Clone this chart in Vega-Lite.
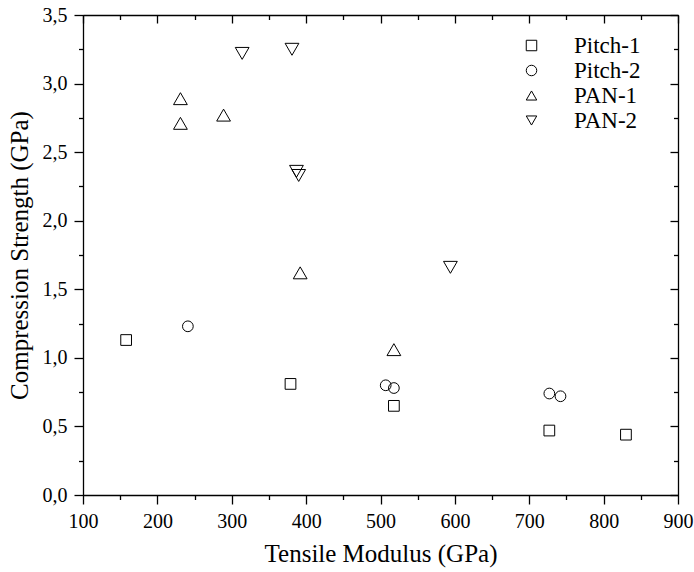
{
  "$schema": "https://vega.github.io/schema/vega-lite/v6.json",
  "width": 595,
  "height": 480,
  "autosize": {"type": "none"},
  "padding": {"left": 83, "top": 15, "right": 16, "bottom": 77},
  "background": "white",
  "config": {
    "view": {"stroke": "black", "strokeWidth": 1},
    "font": "Liberation Serif",
    "axis": {
      "grid": false,
      "domainColor": "black",
      "domainWidth": 1.3,
      "tickColor": "black",
      "tickWidth": 1.3,
      "labelColor": "black",
      "titleColor": "black",
      "labelFont": "Liberation Serif",
      "titleFont": "Liberation Serif",
      "labelFontSize": 20,
      "titleFontSize": 25,
      "titleFontWeight": "normal",
      "labelFlush": false,
      "labelOverlap": false
    },
    "legend": {
      "orient": "none",
      "legendX": 437,
      "legendY": 19,
      "labelFontSize": 23,
      "labelFont": "Liberation Serif",
      "labelColor": "black",
      "symbolSize": 110,
      "symbolStrokeColor": "black",
      "symbolFillColor": "transparent",
      "symbolStrokeWidth": 1,
      "labelOffset": 31,
      "rowPadding": 1,
      "padding": 0
    }
  },
  "data": {
    "values": [
      {"series": "Pitch-1", "modulus": 158, "strength": 1.13},
      {"series": "Pitch-1", "modulus": 379, "strength": 0.81},
      {"series": "Pitch-1", "modulus": 518, "strength": 0.65},
      {"series": "Pitch-1", "modulus": 727, "strength": 0.47},
      {"series": "Pitch-1", "modulus": 830, "strength": 0.44},
      {"series": "Pitch-2", "modulus": 241, "strength": 1.23},
      {"series": "Pitch-2", "modulus": 507, "strength": 0.80},
      {"series": "Pitch-2", "modulus": 518, "strength": 0.78},
      {"series": "Pitch-2", "modulus": 727, "strength": 0.74},
      {"series": "Pitch-2", "modulus": 742, "strength": 0.72},
      {"series": "PAN-1", "modulus": 231, "strength": 2.89},
      {"series": "PAN-1", "modulus": 231, "strength": 2.71},
      {"series": "PAN-1", "modulus": 289, "strength": 2.77},
      {"series": "PAN-1", "modulus": 392, "strength": 1.62},
      {"series": "PAN-1", "modulus": 518, "strength": 1.06},
      {"series": "PAN-2", "modulus": 314, "strength": 3.22},
      {"series": "PAN-2", "modulus": 381, "strength": 3.25},
      {"series": "PAN-2", "modulus": 387, "strength": 2.36},
      {"series": "PAN-2", "modulus": 390, "strength": 2.33},
      {"series": "PAN-2", "modulus": 594, "strength": 1.66}
    ]
  },
  "layer": [
    {
      "mark": {"type": "point", "filled": false, "color": "black", "strokeWidth": 1, "opacity": 1},
      "encoding": {
        "x": {
          "field": "modulus",
          "type": "quantitative",
          "scale": {"domain": [100, 900], "nice": false, "zero": false},
          "axis": {
            "orient": "bottom",
            "title": "Tensile Modulus (GPa)",
            "values": [100, 150, 200, 250, 300, 350, 400, 450, 500, 550, 600, 650, 700, 750, 800, 850, 900],
            "labelExpr": "datum.value % 100 === 0 ? datum.label : ''",
            "tickSize": {"condition": {"test": "datum.value % 100 === 0", "value": 9}, "value": 4.5},
            "labelPadding": 7,
            "titlePadding": 10
          }
        },
        "y": {
          "field": "strength",
          "type": "quantitative",
          "scale": {"domain": [0, 3.5], "nice": false, "zero": true},
          "axis": {
            "orient": "left",
            "title": "Compression Strength (GPa)",
            "values": [0, 0.25, 0.5, 0.75, 1, 1.25, 1.5, 1.75, 2, 2.25, 2.5, 2.75, 3, 3.25, 3.5],
            "labelExpr": "abs(datum.value * 2 - round(datum.value * 2)) < 0.001 ? replace(format(datum.value, '.1f'), '.', ',') : ''",
            "tickSize": {"condition": {"test": "abs(datum.value * 2 - round(datum.value * 2)) < 0.001", "value": 9}, "value": 4.5},
            "labelPadding": 7,
            "titlePadding": 10
          }
        },
        "shape": {
          "field": "series",
          "type": "nominal",
          "scale": {"domain": ["Pitch-1", "Pitch-2", "PAN-1", "PAN-2"], "range": ["square", "circle", "triangle-up", "triangle-down"]},
          "legend": {"title": null}
        },
        "size": {
          "condition": {"test": "indexof(datum.series, 'PAN') >= 0", "value": 190},
          "value": 115
        }
      }
    },
    {
      "mark": {"type": "point", "opacity": 0},
      "encoding": {
        "x": {
          "field": "modulus",
          "type": "quantitative",
          "axis": {
            "orient": "top",
            "title": null,
            "labels": false,
            "values": [100, 150, 200, 250, 300, 350, 400, 450, 500, 550, 600, 650, 700, 750, 800, 850, 900],
            "tickSize": {"condition": {"test": "datum.value % 100 === 0", "value": -8}, "value": -4.5}
          }
        },
        "y": {
          "field": "strength",
          "type": "quantitative",
          "axis": {
            "orient": "right",
            "title": null,
            "labels": false,
            "values": [0, 0.25, 0.5, 0.75, 1, 1.25, 1.5, 1.75, 2, 2.25, 2.5, 2.75, 3, 3.25, 3.5],
            "tickSize": {"condition": {"test": "abs(datum.value * 2 - round(datum.value * 2)) < 0.001", "value": -8}, "value": -4.5}
          }
        }
      }
    }
  ],
  "resolve": {"axis": {"x": "independent", "y": "independent"}}
}
